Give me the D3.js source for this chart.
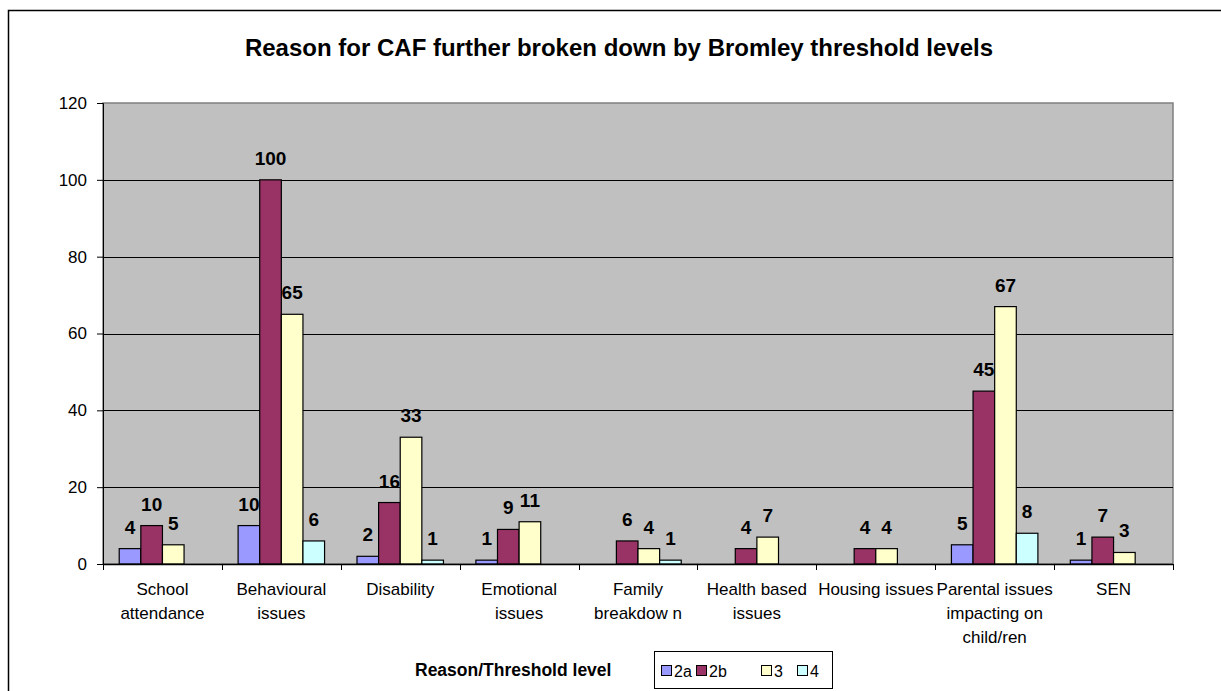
<!DOCTYPE html>
<html>
<head>
<meta charset="utf-8">
<script src="https://cdn.jsdelivr.net/npm/d3@7"></script>
<style>
  body { margin: 0; background: #fff; }
  svg text { font-family: "Liberation Sans", Arial, sans-serif; fill: #000; }
</style>
</head>
<body>
<div id="chart"></div>
<script>
// chart data
var categories = [
    ["School", "attendance"],
    ["Behavioural", "issues"],
    ["Disability"],
    ["Emotional", "issues"],
    ["Family", "breakdow n"],
    ["Health based", "issues"],
    ["Housing issues"],
    ["Parental issues", "impacting on", "child/ren"],
    ["SEN"]
];
var seriesNames = ["2a", "2b", "3", "4"];
var values2a = [4, 10, 2, 1, null, null, null, 5, 1];
var values2b = [10, 100, 16, 9, 6, 4, 4, 45, 7];
var values3  = [5, 65, 33, 11, 4, 7, 4, 67, 3];
var values4  = [null, 6, 1, null, 1, null, null, 8, null];
var yTicks = [0, 20, 40, 60, 80, 100, 120];

var colors = ["#9999FF", "#993366", "#FFFFCC", "#CCFFFF"];
var title = "Reason for CAF further broken down by Bromley threshold levels";
var legendTitle = "Reason/Threshold level";

function init() {
    var w = 1221, h = 691;
    var plot = {left: 103, right: 1173, top: 103, bottom: 564};

    var svg = d3.select("#chart").append("svg")
        .attr("width", w)
        .attr("height", h);

    // outer chart border (cropped on right and bottom)
    svg.append("rect")
        .attr("x", 8.5).attr("y", 10.5)
        .attr("width", 1240).attr("height", 700)
        .attr("fill", "#fff")
        .attr("stroke", "#000")
        .attr("stroke-width", 1.5);

    svg.append("text")
        .attr("x", 619).attr("y", 56)
        .attr("text-anchor", "middle")
        .style("font-size", "24px")
        .style("font-weight", "bold")
        .text(title);

    var names = categories.map(function(c) { return c.join(" "); });

    var xScale = d3.scaleBand()
        .domain(names)
        .range([plot.left, plot.right])
        .paddingInner(0).paddingOuter(0);

    var xInner = d3.scaleBand()
        .domain(seriesNames)
        .range([0, xScale.bandwidth()])
        .paddingInner(0)
        .paddingOuter(0.75);

    var yScale = d3.scaleLinear()
        .domain([0, 120])
        .range([plot.bottom, plot.top]);

    // plot area
    svg.append("rect")
        .attr("x", plot.left).attr("y", plot.top)
        .attr("width", plot.right - plot.left)
        .attr("height", plot.bottom - plot.top)
        .attr("fill", "#C0C0C0")
        .attr("stroke", "#808080")
        .attr("stroke-width", 1.5);

    // gridlines
    svg.append("g").selectAll("line")
        .data(yTicks.filter(function(t) { return t > 0 && t < 120; }))
        .enter().append("line")
        .attr("x1", plot.left).attr("x2", plot.right)
        .attr("y1", function(d) { return Math.round(yScale(d)) + 0.5; })
        .attr("y2", function(d) { return Math.round(yScale(d)) + 0.5; })
        .attr("stroke", "#000");

    // y axis
    var yAxis = d3.axisLeft(yScale)
        .tickValues(yTicks)
        .tickSize(6)
        .tickPadding(10);
    var gy = svg.append("g")
        .attr("transform", "translate(" + plot.left + ",0)")
        .call(yAxis);
    gy.select(".domain").attr("stroke", "#000");
    gy.selectAll(".tick line").attr("stroke", "#000");
    gy.selectAll(".tick text")
        .style("font-size", "17px")
        .style("font-family", "'Liberation Sans', Arial, sans-serif");

    // bars
    var allValues = [values2a, values2b, values3, values4];
    var rows = [];
    allValues.forEach(function(vals, s) {
        vals.forEach(function(v, i) {
            if (v !== null) rows.push({cat: names[i], series: seriesNames[s], s: s, value: v});
        });
    });

    svg.append("g").selectAll("rect")
        .data(rows)
        .enter().append("rect")
        .attr("x", function(d) { return xScale(d.cat) + xInner(d.series); })
        .attr("y", function(d) { return yScale(d.value); })
        .attr("width", xInner.bandwidth())
        .attr("height", function(d) { return plot.bottom - yScale(d.value); })
        .attr("fill", function(d) { return colors[d.s]; })
        .attr("stroke", "#000")
        .attr("stroke-width", 1.2);

    // data labels
    svg.append("g").selectAll("text")
        .data(rows)
        .enter().append("text")
        .attr("x", function(d) { return xScale(d.cat) + xInner(d.series) + xInner.bandwidth() / 2; })
        .attr("y", function(d) { return yScale(d.value) - 15; })
        .attr("text-anchor", "middle")
        .style("font-size", "19px")
        .style("font-weight", "bold")
        .text(function(d) { return d.value; });

    // x axis line + ticks at category boundaries
    svg.append("line")
        .attr("x1", plot.left).attr("x2", plot.right)
        .attr("y1", plot.bottom + 0.5).attr("y2", plot.bottom + 0.5)
        .attr("stroke", "#000").attr("stroke-width", 1.5);

    var bounds = names.map(function(n) { return xScale(n); }).concat([plot.right]);
    svg.append("g").selectAll("line")
        .data(bounds)
        .enter().append("line")
        .attr("x1", function(d) { return Math.round(d) + 0.5; })
        .attr("x2", function(d) { return Math.round(d) + 0.5; })
        .attr("y1", plot.bottom).attr("y2", plot.bottom + 6)
        .attr("stroke", "#000");

    // category labels
    var labels = svg.append("g").selectAll("text")
        .data(categories)
        .enter().append("text")
        .attr("text-anchor", "middle")
        .attr("transform", function(d, i) {
            return "translate(" + (xScale(names[i]) + xScale.bandwidth() / 2) + "," + 595 + ")";
        })
        .style("font-size", "17px");
    labels.selectAll("tspan")
        .data(function(d) { return d; })
        .enter().append("tspan")
        .attr("x", 0)
        .attr("y", function(d, i) { return i * 24; })
        .text(function(d) { return d; });

    // legend
    svg.append("text")
        .attr("x", 415).attr("y", 676)
        .style("font-size", "17.5px")
        .style("font-weight", "bold")
        .text(legendTitle);

    svg.append("rect")
        .attr("x", 654.5).attr("y", 651.5)
        .attr("width", 178).attr("height", 37)
        .attr("fill", "#fff")
        .attr("stroke", "#000");

    var legendX = [661, 696, 761, 797]; // swatch positions
    var items = svg.append("g").selectAll("g")
        .data(seriesNames)
        .enter().append("g")
        .attr("transform", function(d, i) { return "translate(" + legendX[i] + ",665)"; });
    items.append("rect")
        .attr("x", 0.5).attr("y", 0.5)
        .attr("width", 10).attr("height", 10)
        .attr("fill", function(d, i) { return colors[i]; })
        .attr("stroke", "#000");
    items.append("text")
        .attr("x", 13).attr("y", 11.5)
        .style("font-size", "16px")
        .text(function(d) { return d; });
}

window.onload = init;
</script>
</body>
</html>
